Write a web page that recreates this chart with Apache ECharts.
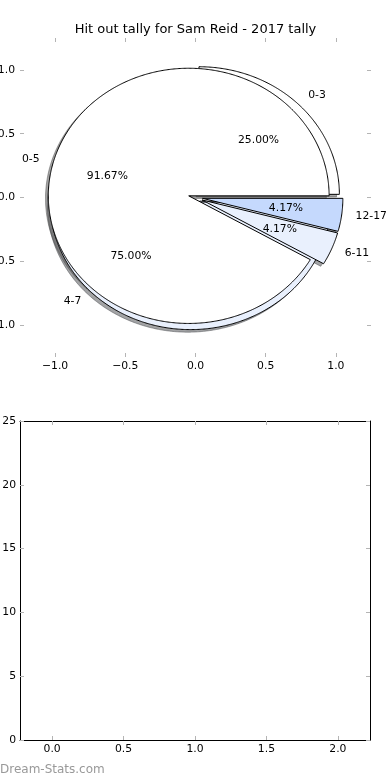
<!DOCTYPE html>
<html><head><meta charset="utf-8">
<script src="https://cdn.jsdelivr.net/npm/echarts@6/dist/echarts.min.js"></script>
<style>html,body{margin:0;padding:0;background:#fff}#c{width:390px;height:780px}</style>
</head><body><div id="c"></div>
<script>
// ---------- data ----------
const titleText = 'Hit out tally for Sam Reid - 2017 tally';
const watermarkText = 'Dream-Stats.com';
// first pie (drawn underneath)
const pieACategories = ['0-3', '4-7'];
const pieAValues = [6, 18];
// second pie (drawn on top)
const pieBCategories = ['0-5', '6-11', '12-17'];
const pieBValues = [22, 1, 1];
// tick labels
const pieTickValues = [-1, -0.5, 0, 0.5, 1];
const barXTickValues = [0, 0.5, 1, 1.5, 2];
const barYTickValues = [0, 5, 10, 15, 20, 25];

// ---------- styles ----------
const pieAExplode = [0.035, 0.05];
const pieBExplode = [0.05, 0.05, 0.05];
const sliceColors = [[255, 255, 255], [233, 240, 253], [197, 217, 253]];
const FONT = 'DejaVu Sans';
const FS = 10.8;

function buildWedges(cats, vals, explode) {
  const total = vals.reduce((a, b) => a + b, 0);
  let t1 = 0;
  return vals.map((v, i) => {
    const frac = v / total;
    const t2 = t1 + frac * 360;
    const tm = (t1 + t2) / 2 * Math.PI / 180;
    const w = {
      t1, t2, tm,
      cx: explode[i] * Math.cos(tm), cy: explode[i] * Math.sin(tm),
      color: sliceColors[i], label: cats[i], pct: (frac * 100).toFixed(2) + '%'
    };
    t1 = t2;
    return w;
  });
}
const wedges = buildWedges(pieACategories, pieAValues, pieAExplode)
  .concat(buildWedges(pieBCategories, pieBValues, pieBExplode));

function wedgePoints(api, w, dx, dy) {
  const pts = [api.coord([w.cx + dx, w.cy + dy])];
  const n = Math.max(2, Math.ceil((w.t2 - w.t1) / 0.5));
  for (let k = 0; k <= n; k++) {
    const a = (w.t1 + (w.t2 - w.t1) * k / n) * Math.PI / 180;
    pts.push(api.coord([w.cx + dx + Math.cos(a), w.cy + dy + Math.sin(a)]));
  }
  return pts;
}
const wedgeData = wedges.map((w, i) => [i, 0]);

const fmtPie = v => (v < 0 ? '\u2212' : '') + Math.abs(v).toFixed(1);
const tickStyle = {show: true, inside: true, length: 4, lineStyle: {color: '#b4b4b4', width: 1}};
const lbl = {fontFamily: FONT, fontSize: FS, color: '#000'};
const hiddenLbl = vals => ({show: true, customValues: vals, formatter: () => '', color: 'rgba(0,0,0,0)'});
const noFrame = {show: true, onZero: false, lineStyle: {color: 'rgba(0,0,0,0)', width: 1}};
const frame = {show: true, onZero: false, lineStyle: {color: '#000', width: 1}};

const chart = echarts.init(document.getElementById('c'), null, {renderer: 'canvas'});
chart.setOption({
  animation: false,
  backgroundColor: '#fff',
  grid: [
    {left: 20, top: 38, width: 351, height: 319, outerBoundsMode: 'none', containLabel: false},
    {left: 20, top: 421, width: 350, height: 319, outerBoundsMode: 'none', containLabel: false}
  ],
  xAxis: [
    {gridIndex: 0, type: 'value', min: -1.25, max: 1.25, position: 'bottom',
     axisLine: noFrame, splitLine: {show: false},
     axisTick: Object.assign({customValues: pieTickValues}, tickStyle),
     axisLabel: Object.assign({customValues: pieTickValues, formatter: fmtPie, margin: 4}, lbl)},
    {gridIndex: 0, type: 'value', min: -1.25, max: 1.25, position: 'top',
     axisLine: noFrame, splitLine: {show: false},
     axisTick: Object.assign({customValues: pieTickValues}, tickStyle),
     axisLabel: hiddenLbl(pieTickValues)},
    {gridIndex: 1, type: 'value', min: -0.225, max: 2.225, position: 'bottom',
     axisLine: frame, splitLine: {show: false},
     axisTick: Object.assign({customValues: barXTickValues}, tickStyle),
     axisLabel: Object.assign({customValues: barXTickValues, formatter: v => v.toFixed(1), margin: 4}, lbl)},
    {gridIndex: 1, type: 'value', min: -0.225, max: 2.225, position: 'top',
     axisLine: frame, splitLine: {show: false},
     axisTick: Object.assign({customValues: barXTickValues}, tickStyle),
     axisLabel: hiddenLbl(barXTickValues)}
  ],
  yAxis: [
    {gridIndex: 0, type: 'value', min: -1.25, max: 1.25, position: 'left',
     axisLine: noFrame, splitLine: {show: false},
     axisTick: Object.assign({customValues: pieTickValues}, tickStyle),
     axisLabel: Object.assign({customValues: pieTickValues, formatter: fmtPie, margin: 5}, lbl)},
    {gridIndex: 0, type: 'value', min: -1.25, max: 1.25, position: 'right',
     axisLine: noFrame, splitLine: {show: false},
     axisTick: Object.assign({customValues: pieTickValues}, tickStyle),
     axisLabel: hiddenLbl(pieTickValues)},
    {gridIndex: 1, type: 'value', min: 0, max: 25, interval: 5, position: 'left',
     axisLine: frame, splitLine: {show: false},
     axisTick: Object.assign({customValues: barYTickValues}, tickStyle),
     axisLabel: Object.assign({customValues: barYTickValues, margin: 4}, lbl)},
    {gridIndex: 1, type: 'value', min: 0, max: 25, interval: 5, position: 'right',
     axisLine: frame, splitLine: {show: false},
     axisTick: Object.assign({customValues: barYTickValues}, tickStyle),
     axisLabel: hiddenLbl(barYTickValues)}
  ],
  graphic: [
    {type: 'text', x: 195.5, y: 29.5, silent: true,
     style: {text: titleText, fontFamily: FONT, fontSize: 13, fill: '#000', align: 'center', verticalAlign: 'middle'}},
    {type: 'text', x: 0, y: 770, silent: true,
     style: {text: watermarkText, fontFamily: FONT, fontSize: 12, fill: '#999', align: 'left', verticalAlign: 'middle'}}
  ],
  series: [
    {type: 'custom', name: 'shadows', xAxisIndex: 0, yAxisIndex: 0, z: 1, silent: true, clip: false,
     data: wedgeData,
     renderItem: (params, api) => {
       const w = wedges[params.dataIndex];
       const c = w.color.map(v => Math.round(v * 0.3));
       const col = 'rgba(' + c.join(',') + ',0.5)';
       return {type: 'polygon', shape: {points: wedgePoints(api, w, -0.02, -0.02)},
               style: {fill: col, stroke: col, lineWidth: 1}};
     }},
    {type: 'custom', name: 'wedges', xAxisIndex: 0, yAxisIndex: 0, z: 2, silent: true, clip: false,
     data: wedgeData,
     renderItem: (params, api) => {
       const w = wedges[params.dataIndex];
       return {type: 'polygon', shape: {points: wedgePoints(api, w, 0, 0)},
               style: {fill: 'rgb(' + w.color.join(',') + ')', stroke: '#000', lineWidth: 1}};
     }},
    {type: 'custom', name: 'labels', xAxisIndex: 0, yAxisIndex: 0, z: 3, silent: true, clip: false,
     data: wedgeData,
     renderItem: (params, api) => {
       const w = wedges[params.dataIndex];
       const lx = w.cx + 1.1 * Math.cos(w.tm), ly = w.cy + 1.1 * Math.sin(w.tm);
       const px = w.cx + 0.6 * Math.cos(w.tm), py = w.cy + 0.6 * Math.sin(w.tm);
       const lp = api.coord([lx, ly]), pp = api.coord([px, py]);
       return {type: 'group', children: [
         {type: 'text', x: lp[0], y: lp[1],
          style: {text: w.label, fontFamily: FONT, fontSize: FS, fill: '#000',
                  align: lx > 0 ? 'left' : 'right', verticalAlign: 'middle'}},
         {type: 'text', x: pp[0], y: pp[1],
          style: {text: w.pct, fontFamily: FONT, fontSize: FS, fill: '#000',
                  align: 'center', verticalAlign: 'middle'}}
       ]};
     }}
  ]
});
</script></body></html>
